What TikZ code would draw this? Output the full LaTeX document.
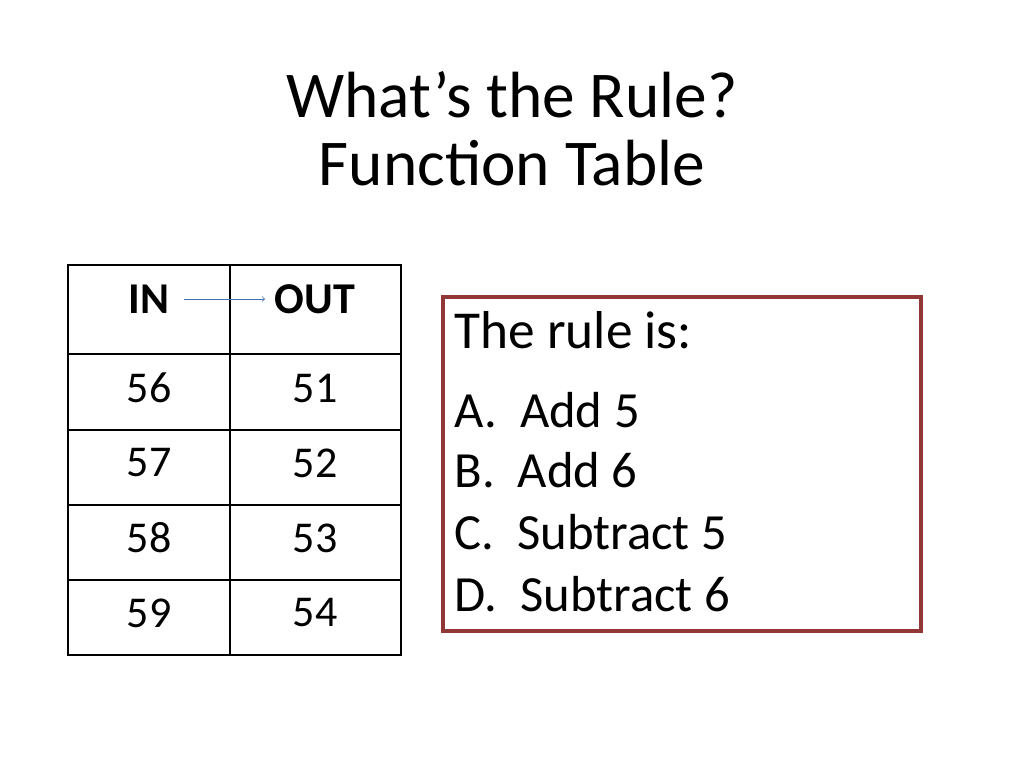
\documentclass[tikz,border=0pt]{standalone}
\usepackage{fontspec}
\setmainfont{Carlito}
\begin{document}
\begin{tikzpicture}[x=0.75pt,y=-0.75pt,
  cell/.style={font=\fontsize{33}{40}\selectfont},
  opt/.style={anchor=west,font=\fontsize{38}{46}\selectfont}]
\useasboundingbox (0,0) rectangle (1024,768);
\node (t1) at (512,95) {\fontsize{49}{58}\selectfont What’s the Rule?};
\node (t2) at (512,163) {\fontsize{49}{58}\selectfont Function Table};
\draw[line width=0.8pt] (68,265) rectangle (401,655);
\draw[line width=0.8pt] (230,265) -- (230,655);
\foreach \y in {354,430,505,580} \draw[line width=0.8pt] (68,\y) -- (401,\y);
\node[font=\fontsize{33}{40}\selectfont\bfseries] (in) at (149,299) {IN};
\node[font=\fontsize{33}{40}\selectfont\bfseries] (out) at (315,299) {OUT};
\draw[->,color={rgb,255:red,70;green,110;blue,180},line width=0.6pt] (in.east) ++(10,0) coordinate (s) (s) -- (out.west -| 265,0 |- s);
\node[cell] (a1) at (149,388) {56}; \node[cell] (b1) at (315,388) {51};
\node[cell] (a2) at (149,463) {57}; \node[cell] (b2) at (315,463) {52};
\node[cell] (a3) at (149,538) {58}; \node[cell] (b3) at (315,538) {53};
\node[cell] (a4) at (149,613) {59}; \node[cell] (b4) at (315,613) {54};
\draw[color={rgb,255:red,145;green,55;blue,55},line width=2.4pt] (443,297) rectangle (921,631);
\node[anchor=west,font=\fontsize{40}{48}\selectfont] (r) at (450,330) {The rule is:};
\node[opt] (oa) at (450,410) {A.\ \ Add 5};
\node[opt] (ob) at (450,470) {B.\ \ Add 6};
\node[opt] (oc) at (450,532) {C.\ \ Subtract 5};
\node[opt] (od) at (450,594) {D.\ \ Subtract 6};
\end{tikzpicture}
\end{document}
